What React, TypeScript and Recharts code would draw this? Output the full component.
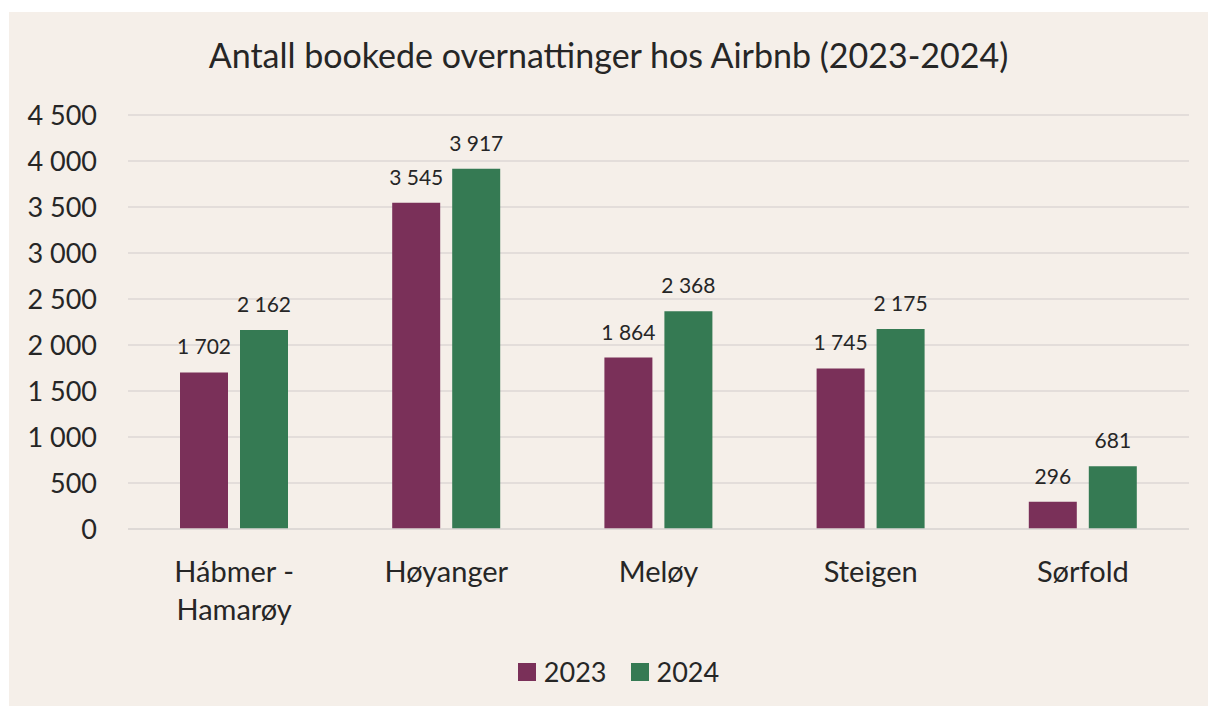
import React from 'react';
import { BarChart, Bar, XAxis, YAxis, CartesianGrid, LabelList } from 'recharts';

const categories = ['Hábmer - Hamarøy', 'Høyanger', 'Meløy', 'Steigen', 'Sørfold'];
const values2023 = [1702, 3545, 1864, 1745, 296];
const values2024 = [2162, 3917, 2368, 2175, 681];
const yTicks = [0, 500, 1000, 1500, 2000, 2500, 3000, 3500, 4000, 4500];

const COLOR_2023 = '#7A3059';
const COLOR_2024 = '#357A53';
const BG = '#F5EFE9';
const TEXT = '#262626';
const FONT = 'Lato, "Open Sans", sans-serif';

const data = categories.map((name, i) => ({
  name,
  y2023: values2023[i],
  y2024: values2024[i],
}));

// 4500 -> "4 500"
const fmt = (v: any) => String(v).replace(/\B(?=(\d{3})+(?!\d))/g, ' ');

const CategoryTick = ({ x, y, payload }: any) => {
  const label: string = payload.value;
  const lines = label.includes(' - ') ? [label.split(' - ')[0] + ' -', label.split(' - ')[1]] : [label];
  return (
    <g transform={`translate(${x},${y})`}>
      {lines.map((line, i) => (
        <text
          key={i}
          x={0}
          y={i * 38}
          dy={45}
          textAnchor="middle"
          fill={TEXT}
          fontSize={29}
          fontFamily={FONT}
        >
          {line}
        </text>
      ))}
    </g>
  );
};

const LegendItem = ({ color, label }: { color: string; label: string }) => (
  <div style={{ display: 'flex', alignItems: 'center', gap: 8 }}>
    <div style={{ width: 18, height: 18, backgroundColor: color }} />
    <span style={{ fontSize: 27, color: TEXT, fontFamily: FONT }}>{label}</span>
  </div>
);

export default function App() {
  return (
    <div
      style={{
        position: 'absolute',
        left: 9,
        top: 12,
        width: 1199,
        height: 694,
        backgroundColor: BG,
        fontFamily: FONT,
      }}
    >
      <div
        style={{
          position: 'absolute',
          top: 22,
          left: 0,
          width: 1199,
          textAlign: 'center',
          fontSize: 34,
          color: TEXT,
        }}
      >
        Antall bookede overnattinger hos Airbnb (2023-2024)
      </div>
      <div style={{ position: 'absolute', left: 0, top: 0 }}>
        <BarChart
          width={1199}
          height={694}
          data={data}
          margin={{ top: 103, right: 19, bottom: 167, left: 0 }}
          barCategoryGap="24.5%"
          barGap={12}
        >
          <CartesianGrid vertical={false} stroke="#DCD7D5" strokeWidth={1.5} />
          <XAxis
            dataKey="name"
            axisLine={{ stroke: '#DCD7D5', strokeWidth: 1.5 }}
            tickLine={false}
            tick={<CategoryTick />}
            interval={0}
            height={10}
          />
          <YAxis
            width={119}
            domain={[0, 4500]}
            ticks={yTicks}
            axisLine={false}
            tickLine={false}
            tickMargin={25}
            tickFormatter={fmt}
            tick={{ fill: TEXT, fontSize: 27, fontFamily: FONT }}
          />
          <Bar dataKey="y2023" fill={COLOR_2023} barSize={48} isAnimationActive={false}>
            <LabelList
              dataKey="y2023"
              position="top"
              offset={18}
              formatter={fmt}
              fill={TEXT}
              fontSize={21}
              fontFamily={FONT}
            />
          </Bar>
          <Bar dataKey="y2024" fill={COLOR_2024} barSize={48} isAnimationActive={false}>
            <LabelList
              dataKey="y2024"
              position="top"
              offset={18}
              formatter={fmt}
              fill={TEXT}
              fontSize={21}
              fontFamily={FONT}
            />
          </Bar>
        </BarChart>
      </div>
      <div
        style={{
          position: 'absolute',
          top: 643,
          left: 0,
          width: 1199,
          paddingLeft: 20,
          boxSizing: 'border-box',
          display: 'flex',
          justifyContent: 'center',
          gap: 24,
        }}
      >
        <LegendItem color={COLOR_2023} label="2023" />
        <LegendItem color={COLOR_2024} label="2024" />
      </div>
    </div>
  );
}
